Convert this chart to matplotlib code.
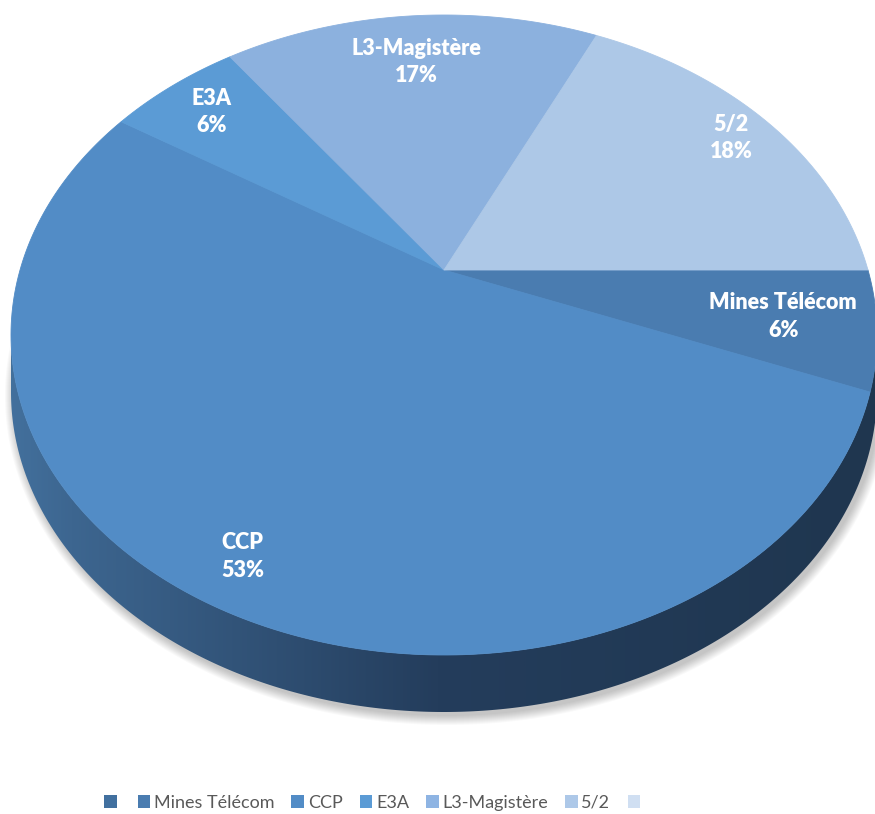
import numpy as np
import matplotlib
matplotlib.use("Agg")
import matplotlib.pyplot as plt
from matplotlib.patches import Polygon, Rectangle
from matplotlib.colors import LinearSegmentedColormap

# ---- data ----
categories = ["Mines Télécom", "CCP", "E3A", "L3-Magistère", "5/2"]
values = [6, 53, 6, 17, 18]
pct_labels = ["6%", "53%", "6%", "17%", "18%"]
colors = ["#4a7cb0", "#528cc6", "#5b9bd5", "#8cb1de", "#adc8e7"]
legend_labels = ["", "Mines Télécom", "CCP", "E3A", "L3-Magistère", "5/2", ""]
legend_colors = ["#41709f", "#4a7cb0", "#528cc6", "#5b9bd5", "#8eb4e3", "#adc8e8", "#d0dff2"]

# ---- layout ----
label_radius = [0.79, 0.88, 0.84, 0.79, 0.88]
W, H = 875, 814
CX, CY, RX, RY = 444, 335, 433, 320
APEX_Y = 270
DEPTH = 57

plt.rcParams['font.family'] = ['Lato', 'DejaVu Sans']
fig = plt.figure(figsize=(8.75, 8.14), dpi=100)
ax = fig.add_axes([0, 0, 1, 1])
ax.set_xlim(0, W)
ax.set_ylim(H, 0)
ax.axis('off')

t = (CY - APEX_Y) / RY
gamma = np.sqrt(1 - t * t)


def proj(theta_deg, r=1.0):
    th = np.radians(theta_deg)
    x = r * np.cos(th)
    y = r * np.sin(th)
    xp = x * gamma
    yp = y + t
    w = 1 + t * y
    return CX + RX * xp / w, CY - RY * yp / w


# ---- shadow ----
phi = np.linspace(0, 2 * np.pi, 400)
for k in range(10):
    sx = CX + 3 + (RX + k) * np.cos(phi)
    sy = CY + DEPTH + 4 + (RY + k) * np.sin(phi)
    ax.add_patch(Polygon(np.c_[sx, sy], closed=True, facecolor='black',
                         alpha=0.025, edgecolor='none', zorder=1))

# ---- side wall with gradient ----
phi = np.linspace(np.pi, 2 * np.pi, 300)
tx = CX + RX * np.cos(phi)
ty = CY - RY * np.sin(phi)
side = np.r_[np.c_[tx, ty], np.c_[tx[::-1], ty[::-1] + DEPTH]]
side_patch = Polygon(side, closed=True, facecolor='none', edgecolor='none')
ax.add_patch(side_patch)
cmap = LinearSegmentedColormap.from_list(
    'side', [(0, '#44729f'), (0.08, '#3d6690'), (0.5, '#243d5c'), (1.0, '#1f364f')])
grad = np.linspace(0, 1, 512)[None, :]
im = ax.imshow(grad, cmap=cmap, extent=(0, W, CY + RY + DEPTH + 5, CY - 10),
               aspect='auto', zorder=2, interpolation='bilinear')
im.set_clip_path(side_patch)
ax.set_xlim(0, W)
ax.set_ylim(H, 0)

# ---- top face slices ----
total = sum(values)
start = 0.0
apex = proj(0, 0.0)
for i, v in enumerate(values):
    span = 360.0 * v / total
    th = np.linspace(start, start - span, 200)
    px, py = proj(th)
    pts = np.r_[[apex], np.c_[px, py]]
    ax.add_patch(Polygon(pts, closed=True, facecolor=colors[i],
                         edgecolor=colors[i], linewidth=0.6, zorder=3))
    mid = start - span / 2
    lx, ly = proj(mid, label_radius[i])
    ax.text(lx, ly, f"{categories[i]}\n{pct_labels[i]}", ha='center', va='center',
            color='white', fontsize=15.5, fontweight='heavy', zorder=5,
            linespacing=1.4)
    start -= span

# ---- legend ----
handles = [Rectangle((0, 0), 1, 1, facecolor=c, edgecolor='none') for c in legend_colors]
fig.legend(handles, legend_labels, loc='center', ncol=7, frameon=False,
           bbox_to_anchor=(374 / W, 1 - 803 / H), handlelength=0.7, handleheight=0.7,
           handletextpad=0.2, columnspacing=0.95, fontsize=13, labelcolor='#595959')

fig.savefig('out.png', dpi=100)
